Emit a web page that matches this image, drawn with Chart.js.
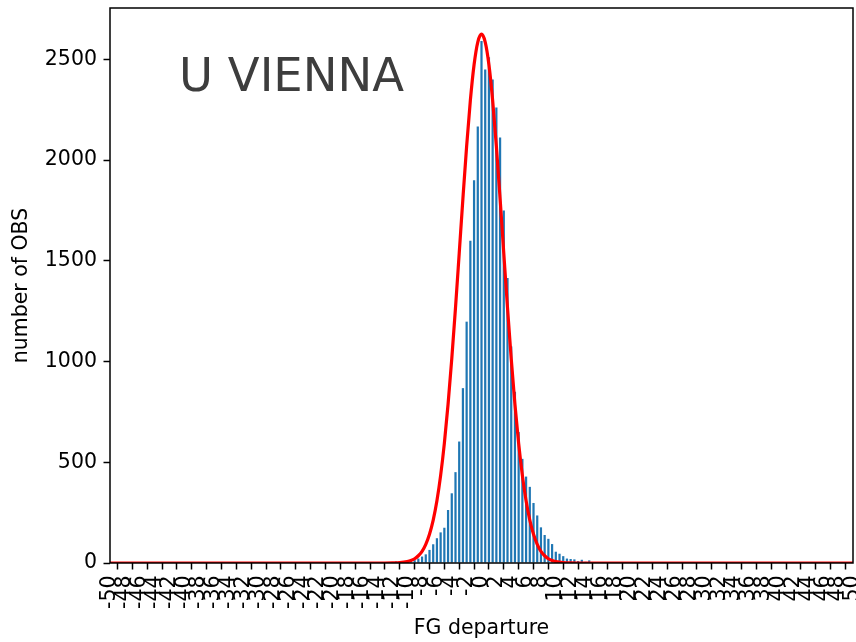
<!DOCTYPE html>
<html><head><meta charset="utf-8">
<script src="https://cdn.jsdelivr.net/npm/chart.js@4/dist/chart.umd.min.js"></script>
<style>
html,body{margin:0;padding:0;background:#fff;}
#wrap{position:relative;width:856px;height:642px;}
#label{position:absolute;left:179px;top:52px;font-family:"DejaVu Sans";font-size:46.5px;line-height:46.5px;color:#3d3d3d;white-space:nowrap;}
</style></head><body>
<div id="wrap"><canvas id="c" width="856" height="642"></canvas><div id="label">U VIENNA</div></div>
<script>
// ---- data ----
const binCenters = [-12,-11.5,-11,-10.5,-10,-9.5,-9,-8.5,-8,-7.5,-7,-6.5,-6,-5.5,-5,-4.5,-4,-3.5,-3,-2.5,-2,-1.5,-1,-0.5,0,0.5,1,1.5,2,2.5,3,3.5,4,4.5,5,5.5,6,6.5,7,7.5,8,8.5,9,9.5,10,10.5,11,11.5,12,12.5,13,13.5,14,14.5];
const obsCounts  = [5,8,6,9,6,10,14,22,32,43,65,93,123,152,175,263,346,451,603,868,1198,1600,1900,2167,2591,2450,2511,2400,2261,2112,1750,1415,1075,850,650,517,429,378,298,236,177,139,120,94,56,46,34,22,20,18,10,16,6,13];
const fitX = [-50,-13,-12,-11,-10,-9.5,-9,-8.5,-8,-7.5,-7,-6.5,-6,-5.5,-5,-4.5,-4,-3.5,-3,-2.5,-2,-1.5,-1,-0.5,0,0.5,1,1.5,2,2.5,3,3.5,4,4.5,5,5.5,6,6.5,7,7.5,8,8.5,9,9.5,10,11,12,13,50];
const fitY = [0,0,0.5,2,7,12,21,36,58,93,143,213,309,435,594,788,1014,1267,1537,1810,2069,2296,2473,2586,2625,2586,2473,2296,2069,1810,1537,1267,1014,788,594,435,309,213,143,93,58,36,21,12,7,2,0.5,0,0];
const xTicks = [-50,-48,-46,-44,-42,-40,-38,-36,-34,-32,-30,-28,-26,-24,-22,-20,-18,-16,-14,-12,-10,-8,-6,-4,-2,0,2,4,6,8,10,12,14,16,18,20,22,24,26,28,30,32,34,36,38,40,42,44,46,48,50];
const yTicks = [0,500,1000,1500,2000,2500];
const xTitle = 'FG departure';
const yTitle = 'number of OBS';

const FONT = 'DejaVu Sans';
const FS = 20.5;
Chart.defaults.color = '#000';
Chart.defaults.font.family = FONT;

const barData = binCenters.map((x,i)=>({x:x, y:obsCounts[i]}));
const lineData = fitX.map((x,i)=>({x:x, y:fitY[i]}));

const framePlugin = {
  id:'frame',
  afterDatasetsDraw(chart){
    const {ctx, chartArea:a} = chart;
    ctx.save();
    ctx.strokeStyle = '#000';
    ctx.lineWidth = 1.5;
    ctx.strokeRect(a.left, a.top, a.right-a.left, a.bottom-a.top);
    ctx.restore();
  }
};

new Chart(document.getElementById('c'), {
  type:'bar',
  data:{
    datasets:[
      {type:'line', data:lineData, borderColor:'#ff0000', borderWidth:3.2, pointRadius:0, cubicInterpolationMode:'monotone', fill:false, order:0},
      {type:'bar', data:barData, backgroundColor:'#1f77b4', borderWidth:0, barPercentage:0.6, categoryPercentage:1, order:1}
    ]
  },
  options:{
    responsive:false, animation:false, devicePixelRatio:1,
    layout:{padding:{top:8, right:3, bottom:0, left:0}},
    plugins:{legend:{display:false}, tooltip:{enabled:false}},
    scales:{
      x:{
        type:'linear', min:-50, max:50, offset:false,
        border:{display:false},
        grid:{display:true, drawOnChartArea:false, drawTicks:true, tickLength:6.5, tickWidth:1.5, tickColor:'#000'},
        ticks:{autoSkip:false, maxRotation:90, minRotation:90, padding:6, font:{size:FS}, color:'#000',
          callback:(v)=> String(v)},
        afterBuildTicks:(s)=>{ s.ticks = xTicks.map(v=>({value:v})); },
        afterFit:(s)=>{ s.height = 79; s.paddingLeft = 0; s.paddingRight = 0; },
        title:{display:true, text:xTitle, font:{size:FS}, color:'#000', padding:{top:0,bottom:1}}
      },
      y:{
        type:'linear', min:0, max:2755,
        border:{display:false},
        grid:{display:true, drawOnChartArea:false, drawTicks:true, tickLength:6.5, tickWidth:1.5, tickColor:'#000'},
        ticks:{padding:6.5, font:{size:FS}, color:'#000', callback:(v)=> String(v)},
        afterBuildTicks:(s)=>{ s.ticks = yTicks.map(v=>({value:v})); },
        afterFit:(s)=>{ s.width = 110; s.paddingTop = 0; s.paddingBottom = 0; },
        title:{display:true, text:yTitle, font:{size:FS}, color:'#000', padding:{top:9,bottom:0}}
      }
    }
  },
  plugins:[framePlugin]
});
</script>
</body></html>
